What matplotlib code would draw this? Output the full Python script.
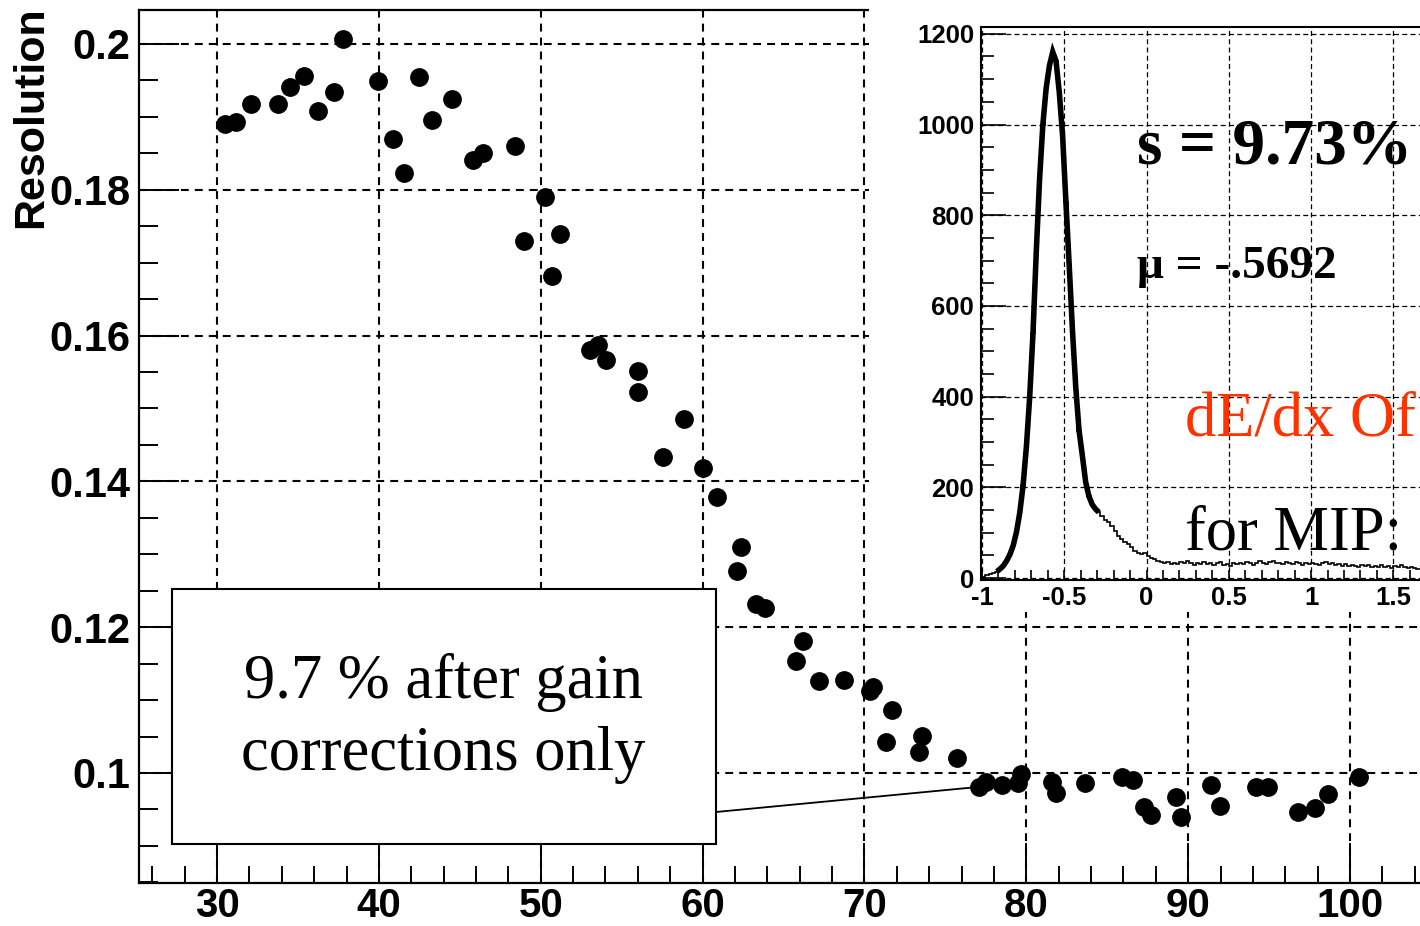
import numpy as np
import matplotlib
matplotlib.use('Agg')
import matplotlib.pyplot as plt
from matplotlib.patches import Rectangle
from matplotlib.ticker import MultipleLocator, FormatStrFormatter

# resolution vs. something (main plot)
res_x = [30.49, 31.17, 32.10, 33.77, 34.51, 35.37, 36.24, 37.23, 37.78, 39.95,
         40.87, 41.55, 42.48, 43.28, 44.52, 45.82, 46.43, 48.41, 48.97, 50.26,
         50.70, 51.19, 53.04, 53.54, 54.03, 56.01, 56.01, 57.55, 58.85, 60.03,
         60.89, 62.13, 62.37, 63.30, 63.86, 65.77, 66.20, 67.19, 68.74, 70.34,
         70.53, 71.30, 71.69, 73.38, 73.53, 75.69, 77.10, 77.50, 78.52, 79.48,
         79.70, 81.56, 81.85, 83.60, 85.88, 86.58, 87.27, 87.69, 89.27, 89.54,
         91.41, 91.94, 94.21, 94.91, 96.76, 97.82, 98.66, 100.53]
res_y = [0.1890, 0.1893, 0.1918, 0.1918, 0.1941, 0.1956, 0.1908, 0.1934, 0.2007, 0.1949,
         0.1870, 0.1823, 0.1955, 0.1896, 0.1925, 0.1841, 0.1850, 0.1860, 0.1730, 0.1790,
         0.1682, 0.1739, 0.1580, 0.1587, 0.1567, 0.1551, 0.1523, 0.1433, 0.1486, 0.1418,
         0.1379, 0.1277, 0.1310, 0.1232, 0.1226, 0.1154, 0.1181, 0.1126, 0.1128, 0.1112,
         0.1118, 0.1043, 0.1087, 0.1029, 0.1051, 0.1020, 0.0981, 0.0987, 0.0984, 0.0986,
         0.0999, 0.0988, 0.0973, 0.0986, 0.0995, 0.0991, 0.0954, 0.0942, 0.0967, 0.0939,
         0.0984, 0.0955, 0.0981, 0.0981, 0.0947, 0.0952, 0.0971, 0.0994]

# inset histogram: dE/dx offset, bins of 0.02 starting at -1
hist_lo = -1.0
hist_w = 0.02
hist_counts = [3, 6, 8, 10, 14, 20, 27, 38, 52, 72,
               102, 145, 205, 290, 400, 540, 720, 880, 1000, 1080,
               1130, 1160, 1140, 1070, 975, 830, 690, 545, 420, 325,
               270, 212, 180, 162, 152, 145, 136, 128, 124, 115,
               104, 93, 86, 80, 74, 68, 60, 56, 52, 55,
               49, 45, 41, 37, 35, 33,
               36, 31, 34, 30, 35, 32, 37, 33, 29, 34, 31, 35, 30, 33, 28, 32, 35, 29, 31, 27,
               33, 30, 34, 31, 36, 32, 29, 34, 37, 33, 30, 35, 38, 32, 34, 31, 36, 33, 30, 35,
               32, 28, 33, 30, 34, 31, 29, 33, 35, 30, 32, 28, 31, 27, 30, 26, 29, 27, 25, 28,
               26, 29, 24, 27, 25, 28, 24, 26, 23, 27, 25, 29, 24, 22, 25, 21, 20]
thick_start = -0.92  # the dense (thick-looking) part of the histogram
thick_end = -0.27

W, H = 1420, 926
fig = plt.figure(figsize=(W / 100, H / 100), dpi=100)
tick_font = dict(family='Liberation Sans', weight='bold')

# ---- main plot
ax = fig.add_axes([139 / W, 1 - 883 / H, (W - 139) / W, (883 - 10) / H])
ax.set_xlim(25.18, 104.32)
ax.set_ylim(0.08491, 0.20466)
ax.spines['right'].set_visible(False)
for s in ['left', 'bottom', 'top']:
    ax.spines[s].set_linewidth(1.6)

ax.plot(res_x, res_y, 'o', color='black', ms=12.5, zorder=3)

ax.xaxis.set_major_locator(MultipleLocator(10))
ax.xaxis.set_minor_locator(MultipleLocator(2))
ax.yaxis.set_major_locator(MultipleLocator(0.02))
ax.yaxis.set_minor_locator(MultipleLocator(0.005))
ax.yaxis.set_major_formatter(FormatStrFormatter('%g'))
ax.tick_params(which='both', direction='in', top=False, right=False, color='black', width=1.4)
ax.tick_params(axis='y', which='major', length=29, pad=6)
ax.tick_params(axis='y', which='minor', length=14)
ax.tick_params(axis='x', which='major', length=29, pad=3)
ax.tick_params(axis='x', which='minor', length=12)
for lab in ax.get_xticklabels():
    lab.set_fontproperties(dict(tick_font, size=29))
for lab in ax.get_yticklabels():
    lab.set_fontproperties(dict(tick_font, size=30))
ax.grid(True, which='major', color='black', lw=1.5, ls=(0, (3.8, 2.9)))

fig.text(31 / W, 1 - 6 / H, 'Resolution', rotation=90, ha='center', va='top',
         fontsize=31, family='Liberation Sans', weight='bold')

# text box with callout
ax.add_patch(Rectangle((27.22, 0.09026), 33.61, 0.03498, facecolor='white',
                       edgecolor='black', lw=1.5, zorder=4))
ax.text(44.0, 0.1075, '9.7 % after gain\ncorrections only', ha='center', va='center',
        fontsize=45, family='Liberation Serif', linespacing=1.32, zorder=5)
k = int(np.argmin(np.abs(np.array(res_x) - 77.1)))
ax.annotate('', xy=(res_x[k], res_y[k]), xytext=(60.83, 0.09465),
            arrowprops=dict(arrowstyle='-', lw=1.3, color='black', shrinkA=0, shrinkB=0),
            zorder=4)

# ---- inset pad
fig.add_artist(Rectangle((869 / W, 1 - 612 / H), (W - 869) / W, 612 / H,
                         transform=fig.transFigure, facecolor='white', edgecolor='none', zorder=1))
axi = fig.add_axes([981 / W, 1 - 580 / H, (W - 981) / W, (580 - 27) / H], zorder=2)
axi.set_xlim(-1.006, 1.662)
axi.set_ylim(-4.4, 1215)
axi.spines['right'].set_visible(False)
for s in ['left', 'bottom', 'top']:
    axi.spines[s].set_linewidth(1.5)

edges = hist_lo + hist_w * np.arange(len(hist_counts) + 1)
centers = 0.5 * (edges[:-1] + edges[1:])
counts = np.array(hist_counts)
axi.stairs(counts, edges, color='black', lw=1.2, baseline=None)
dense = (centers > thick_start) & (centers < thick_end)
axi.plot(centers[dense], counts[dense], color='black', lw=4.0,
         solid_joinstyle='miter', solid_capstyle='butt')

axi.xaxis.set_major_locator(MultipleLocator(0.5))
axi.xaxis.set_minor_locator(MultipleLocator(0.1))
axi.yaxis.set_major_locator(MultipleLocator(200))
axi.yaxis.set_minor_locator(MultipleLocator(50))
axi.xaxis.set_major_formatter(FormatStrFormatter('%g'))
axi.tick_params(which='both', direction='in', top=False, right=False, color='black', width=1.2)
axi.tick_params(axis='y', which='major', length=18, pad=5)
axi.tick_params(axis='y', which='minor', length=9)
axi.tick_params(axis='x', which='both', length=7, pad=4)
for lab in axi.get_xticklabels() + axi.get_yticklabels():
    lab.set_fontproperties(dict(tick_font, size=18.5))
axi.grid(True, which='major', color='black', lw=0.9, ls=(0, (4, 2.6)))

fig.text(1137 / W, 1 - 163 / H, 's = 9.73%', fontsize=47, family='Liberation Serif',
         weight='bold', va='baseline', zorder=3)
fig.text(1137 / W, 1 - 278 / H, '\u03bc = -.5692', fontsize=34, family='Liberation Serif',
         weight='bold', va='baseline', zorder=3)
fig.text(1185 / W, 1 - 435 / H, 'dE/dx Of', fontsize=45, family='Liberation Serif',
         color='#ff3300', va='baseline', zorder=3)
fig.text(1185 / W, 1 - 550 / H, 'for MIP:', fontsize=45, family='Liberation Serif',
         va='baseline', zorder=3)

fig.savefig('out.png', dpi=100)
